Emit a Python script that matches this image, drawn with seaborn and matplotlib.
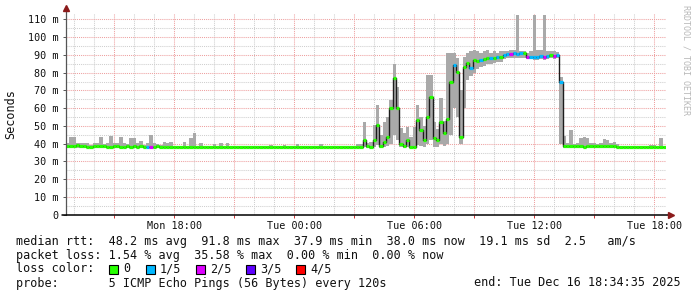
import numpy as np
import matplotlib
matplotlib.use("Agg")
import matplotlib.pyplot as plt
from matplotlib.patches import Rectangle
import seaborn as sns

# ---------------- data (10-minute samples, Mon 12:35 .. Tue 18:35) ----------------
# median rtt in ms
med = ([38.6, 38.8, 38.6, 39.0, 38.8, 38.5, 38.2, 38.3, 38.6, 38.9, 38.6, 38.9, 38.4, 38.2, 38.6, 38.8,
        38.4, 38.2, 38.6, 38.3, 38.5, 38.2, 38.7, 38.3, 38.0, 38.0, 38.3, 38.5, 38.2, 38.4, 38.2, 38.3]
       + [38.0] * 56
       + [38.3, 42.0, 38.5, 38.3, 42.0, 50.5, 38.7, 41.0, 43.9, 59.9, 76.8, 60.0, 40.0, 38.5, 42.0, 38.3,
          38.3, 53.3, 47.7, 42.0, 55.0, 66.4, 43.0, 42.0, 52.4, 46.0, 54.0, 75.0, 84.3, 80.5, 43.9, 83.0,
          85.2, 82.4, 87.1, 86.5, 87.1, 87.5, 88.0, 88.5, 88.0, 89.0, 89.0, 90.0, 90.5, 90.5, 91.0, 90.5,
          90.8, 90.8, 89.0, 89.0, 89.0, 89.0, 89.5, 89.0, 89.5, 90.0, 89.5, 90.0, 74.9]
       + [38.7, 38.5, 38.7, 38.5, 38.8, 38.5, 38.3, 38.7, 38.5, 38.8, 38.5, 38.7, 38.6, 38.8, 38.5, 38.6, 38.3]
       + [38.0] * 14)

# largest ping of each sample (top of the smoke)
hi = ([40.2, 43.9, 43.9, 40.5, 40.2, 40.5, 40.2, 39.5, 40.5, 40.2, 43.9, 40.0, 40.5, 44.5, 40.2, 40.5,
       43.9, 40.2, 39.6, 43.0, 43.0, 40.2, 41.6, 39.5, 40.2, 45.0, 40.5, 40.0, 39.5, 41.2, 40.2, 41.0]
      + [38.6, 38.6, 38.6, 41.2, 38.6, 43.0, 46.0, 38.6, 40.2, 38.6, 38.6, 38.6, 40.0, 38.6, 40.2, 38.6, 40.2]
      + [38.6] * 12 + [39.3] + [38.6] * 3 + [39.3] + [38.6] * 3 + [39.6] + [38.6] * 6 + [39.6]
      + [38.6] * 10 + [40.0]
      + [40.0, 52.0, 40.5, 41.0, 50.5, 61.7, 45.0, 52.0, 55.0, 64.6, 85.0, 72.0, 49.0, 46.0, 49.6, 44.0,
         49.6, 61.7, 55.0, 50.0, 78.7, 78.7, 52.0, 48.0, 65.5, 53.0, 90.8, 90.8, 90.8, 88.0, 70.0, 89.0,
         91.0, 92.0, 92.7, 92.0, 91.0, 92.0, 92.7, 91.0, 92.0, 91.0, 92.0, 92.0, 92.0, 92.5, 92.5, 112.4,
         92.0, 92.0, 91.0, 92.0, 112.4, 93.0, 93.0, 112.4, 92.0, 92.0, 92.0, 91.5, 77.7]
      + [44.3, 40.2, 47.7, 40.0, 40.5, 43.0, 43.9, 43.0, 40.2, 40.5, 40.0, 40.5, 42.4, 42.0, 40.5, 41.1, 40.0]
      + [38.6] * 9 + [39.3, 39.3, 38.6, 43.0, 38.6])

# smallest ping of each sample (bottom of the smoke)
lo = ([37.6] * 88
      + [37.8, 38.0, 37.8, 37.8, 38.0, 39.0, 37.8, 38.0, 38.5, 40.0, 45.0, 42.0, 38.0, 37.8, 38.0, 37.8,
         37.8, 39.0, 38.5, 38.0, 40.0, 42.0, 38.0, 38.0, 40.0, 38.5, 40.0, 45.0, 60.0, 55.0, 40.0, 60.0,
         76.0, 78.0, 80.0, 82.0, 83.0, 84.0, 85.0, 85.0, 85.5, 86.0, 86.0, 87.5, 88.0, 88.0, 88.5, 88.0,
         88.0, 88.0, 87.5, 87.5, 87.0, 87.0, 87.5, 87.0, 87.5, 88.0, 87.5, 88.0, 40.0]
      + [37.8] * 31)

# lost pings out of 5 per sample
loss = ([0] * 24 + [1, 2] + [0] * 6
        + [0] * 56
        + [0] * 28 + [1, 0, 0, 0, 0, 1, 0, 0, 1, 0, 0, 1, 0, 1, 0, 1, 1, 2, 1, 1, 1, 0, 2, 1, 1, 1, 1, 2,
                      1, 0, 2, 1, 1]
        + [0] * 31)

loss_labels = ["0", "1/5", "2/5", "3/5", "4/5"]
loss_colors = ["#26ff00", "#00b8ff", "#dd00ff", "#5e00ff", "#ff0000"]

tick_hours = [15, 18, 21, 24, 27, 30, 33, 36, 39, 42]
tick_labels = ["", "Mon 18:00", "", "Tue 00:00", "", "Tue 06:00", "", "Tue 12:00", "", "Tue 18:00"]
ytick_vals = [0, 10, 20, 30, 40, 50, 60, 70, 80, 90, 100, 110]
ytick_labels = ["0", "10 m", "20 m", "30 m", "40 m", "50 m", "60 m", "70 m", "80 m", "90 m", "100 m", "110 m"]

legend_rtt = "median rtt:  48.2 ms avg  91.8 ms max  37.9 ms min  38.0 ms now  19.1 ms sd  2.5   am/s"
legend_loss = "packet loss: 1.54 % avg  35.58 % max  0.00 % min  0.00 % now"
legend_probe = "probe:       5 ICMP Echo Pings (56 Bytes) every 120s"
legend_end = "end: Tue Dec 16 18:34:35 2025"

# ---------------- figure ----------------
sns.set_style("white")
plt.rcParams["font.family"] = ["DejaVu Sans Mono", "DejaVu Sans"]

W, H = 697, 297
fig = plt.figure(figsize=(W / 100, H / 100), dpi=100)
fig.patch.set_facecolor("white")
PL, PR, PT, PB = 66, 666, 13, 214.7
ax = fig.add_axes([PL / W, 1 - PB / H, (PR - PL) / W, (PB - PT) / H])

t_start, t_end = 12.576, 42.576          # hours since Mon 00:00
step = 1 / 6
n = len(med)
edges = t_start + step * np.arange(n + 1)
left = edges[:-1]
right = edges[1:]

med_a = np.array(med)
hi_a = np.array(hi)
lo_a = np.array(lo)

# smoke
ax.stairs(hi_a, edges, baseline=lo_a, fill=True, color="#a9a9a9", lw=0, zorder=2)
# dark connection of medians
sns.lineplot(x=np.append(left, right[-1]), y=np.append(med_a, med_a[-1]), ax=ax,
             drawstyle="steps-post", color="#1c1c1c", lw=1.0, estimator=None, zorder=3)
# colored median by loss
ax.hlines(med_a, left, right, colors=[loss_colors[l] for l in loss], lw=2.3,
          capstyle="butt", zorder=4)

ax.set_xlim(t_start, t_end)
ax.set_ylim(0, 113.6)
ax.set_xticks(tick_hours)
ax.set_xticklabels(tick_labels)
ax.set_xticks(np.arange(13, 43, 1), minor=True)
ax.set_yticks(ytick_vals)
ax.set_yticklabels(ytick_labels)
ax.set_yticks(np.arange(5, 113, 10), minor=True)
ax.set_xlabel("")
ax.set_ylabel("")

ax.set_axisbelow(True)
ax.grid(which="major", color="#eea0a0", ls=(0, (1, 1)), lw=0.75)
ax.grid(which="minor", color="#cfcfcf", ls=(0, (1, 1)), lw=0.75)

for s in ["top", "right"]:
    ax.spines[s].set_visible(False)
ax.spines["left"].set_visible(False)
ax.spines["bottom"].set_visible(False)

# axis lines and arrows
ax.plot([0, 0], [0, 1.02], transform=ax.transAxes, color="#555555", lw=0.9, clip_on=False, zorder=5)
ax.plot([-0.007, 1.004], [0, 0], transform=ax.transAxes, color="black", lw=1.1, clip_on=False, zorder=5)
ax.plot([0], [1.024], marker="^", ms=4.2, color="#8b1a1a", transform=ax.transAxes, clip_on=False, zorder=6)
ax.plot([1.009], [0], marker=">", ms=4.2, color="#8b1a1a", transform=ax.transAxes, clip_on=False, zorder=6)

ax.tick_params(axis="x", which="major", length=2, width=0.7, color="#cc3333", pad=2.5,
               labelsize=7.3, labelcolor="#111111", bottom=True)
ax.tick_params(axis="x", which="minor", length=0)
ax.tick_params(axis="y", which="major", length=2, width=0.7, color="#555555", pad=3.5,
               labelsize=7.3, labelcolor="#111111", left=True)
ax.tick_params(axis="y", which="minor", length=0)

def fx(px):
    return px / W

def fy(py):
    return 1 - py / H

fig.text(fx(11), fy(114), "Seconds", rotation=90, ha="center", va="center", fontsize=8.5, color="#111111")
fig.text(fx(686), fy(60), "RRDTOOL / TOBI OETIKER", rotation=270, ha="center", va="center",
         fontsize=6, color="#b8b8b8")

fs = 8.5
fig.text(fx(16), fy(241), legend_rtt, ha="left", va="center", fontsize=fs, color="#111111")
fig.text(fx(16), fy(255.5), legend_loss, ha="left", va="center", fontsize=fs, color="#111111")
fig.text(fx(16), fy(269), "loss color:", ha="left", va="center", fontsize=fs, color="#111111")
box_x = [109, 146, 196, 246, 296]
for bx, lab, col in zip(box_x, loss_labels, loss_colors):
    fig.add_artist(Rectangle((fx(bx), fy(273.5)), 8.5 / W, 8.5 / H, transform=fig.transFigure,
                             facecolor=col, edgecolor="black", lw=0.8))
    fig.text(fx(bx + 14), fy(269), lab, ha="left", va="center", fontsize=fs, color="#111111")
fig.text(fx(16), fy(283), legend_probe, ha="left", va="center", fontsize=fs, color="#111111")
fig.text(fx(681), fy(283), legend_end, ha="right", va="center", fontsize=fs, color="#111111")

fig.savefig("out.png", dpi=100, facecolor="white")
